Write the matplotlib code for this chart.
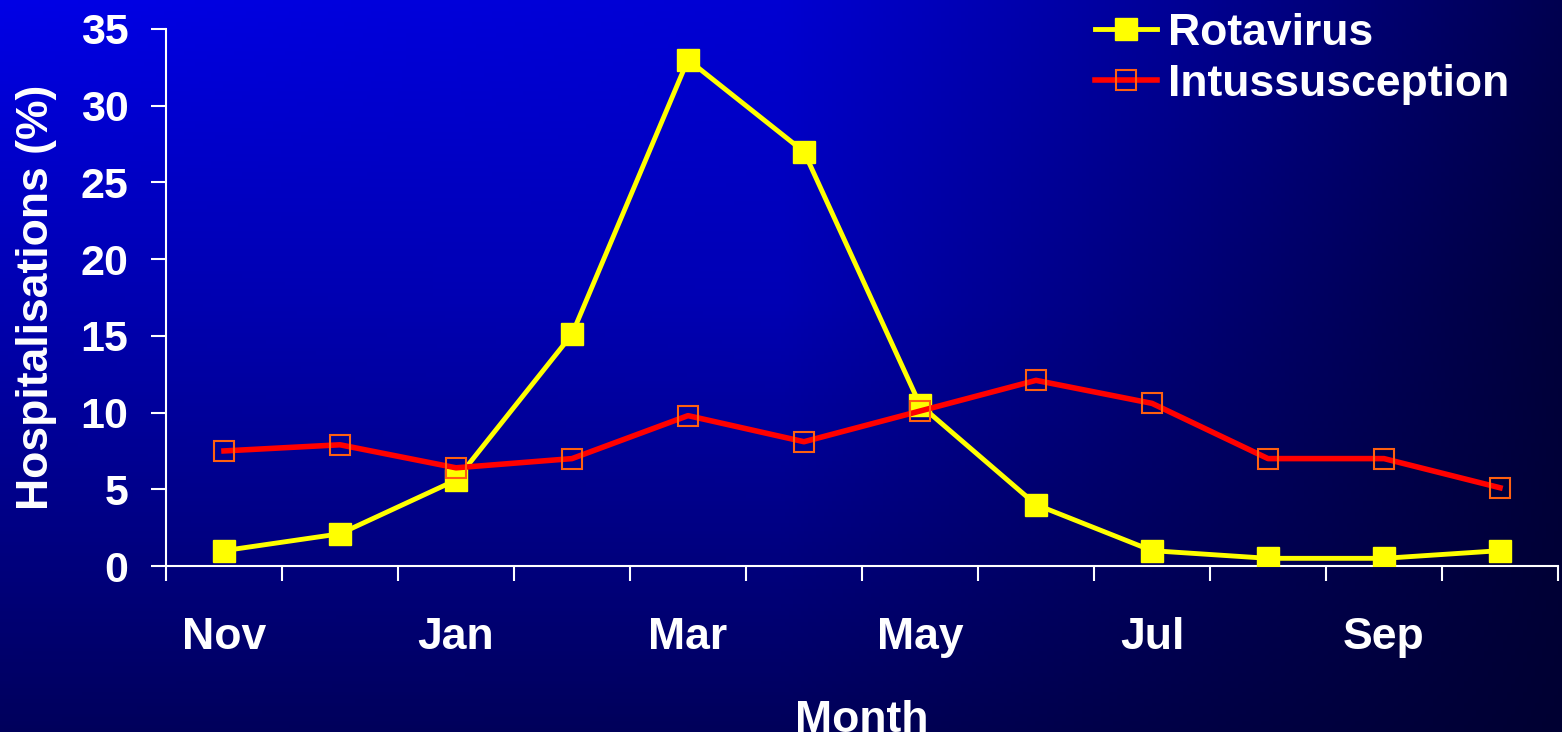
import numpy as np
import matplotlib
matplotlib.use("Agg")
import matplotlib.pyplot as plt

months = ['Nov', 'Dec', 'Jan', 'Feb', 'Mar', 'Apr', 'May', 'Jun', 'Jul', 'Aug', 'Sep', 'Oct']
rotavirus = [1.0, 2.1, 5.6, 15.1, 33.0, 27.0, 10.5, 4.0, 1.0, 0.5, 0.5, 1.0]
intussusception = [7.5, 7.9, 6.4, 7.0, 9.8, 8.1, 10.1, 12.1, 10.6, 7.0, 7.0, 5.1]
yticks = [0, 5, 10, 15, 20, 25, 30, 35]

plt.rcParams['font.family'] = ['Liberation Sans', 'DejaVu Sans']
plt.rcParams['font.weight'] = 'bold'
plt.rcParams['axes.labelweight'] = 'bold'

fig = plt.figure(figsize=(15.62, 7.32), dpi=100)

# background gradient, blue channel sampled at a coarse grid
bg = fig.add_axes([0, 0, 1, 1], zorder=-1)
gx = [0.0, 0.5, 0.75, 1.0]
gy = [0.0, 0.41, 1.0]
gval = np.array([[230, 210, 150, 80],
                 [176, 180, 120, 60],
                 [92, 90, 70, 50]], dtype=float)
xs = np.linspace(0, 1, 400)
ys = np.linspace(0, 1, 200)
rows = np.array([np.interp(xs, gx, r) for r in gval])
img = np.array([np.interp(ys, gy, rows[:, j]) for j in range(len(xs))]).T
rgb = np.zeros((len(ys), len(xs), 3))
rgb[..., 2] = img / 255.0
bg.imshow(rgb, aspect='auto', extent=[0, 1, 1, 0])
bg.axis('off')

ax = fig.add_axes([166/1562, 1-566/732, (1558-166)/1562, (566-29)/732])
ax.set_facecolor('none')
x = np.arange(len(months))

ax.plot(x, rotavirus, color='#FFFF00', lw=3.5, marker='s', ms=16,
        mfc='#FFFF00', mec='#FFFF00', label='Rotavirus', zorder=3)
ax.plot(x, intussusception, color='#FF0000', lw=4.0, marker='s', ms=15,
        mfc='none', mec='#FF6010', mew=1.5, label='Intussusception', zorder=4)

ax.set_xlim(-0.5, len(months) - 0.5)
ax.set_ylim(0, 35)
ax.set_yticks(yticks)
ax.set_xticks(np.arange(-0.5, len(months), 1))
ax.set_xticklabels([])
ax.set_xticks(x[::2], minor=True)
ax.set_xticklabels(months[::2], minor=True)

for s in ['top', 'right']:
    ax.spines[s].set_visible(False)
for s in ['left', 'bottom']:
    ax.spines[s].set_color('white')
    ax.spines[s].set_linewidth(1.5)

ax.tick_params(axis='both', which='major', colors='white', length=11, width=1.5,
               labelsize=31, direction='out')
ax.tick_params(axis='y', pad=16)
ax.tick_params(axis='x', which='minor', length=0, pad=37, labelsize=32, colors='white')

ax.set_ylabel('Hospitalisations (%)', fontsize=32, color='white', labelpad=17)
ax.set_xlabel('Month', fontsize=32, color='white', labelpad=30)

leg = ax.legend(loc='upper left', bbox_to_anchor=(1095/1562, 1-13/732),
                bbox_transform=fig.transFigure, frameon=False, fontsize=32,
                handlelength=1.4, handletextpad=0.25, labelspacing=0.22,
                borderpad=0, borderaxespad=0)
for t in leg.get_texts():
    t.set_color('white')

fig.savefig('out.png', dpi=100)
